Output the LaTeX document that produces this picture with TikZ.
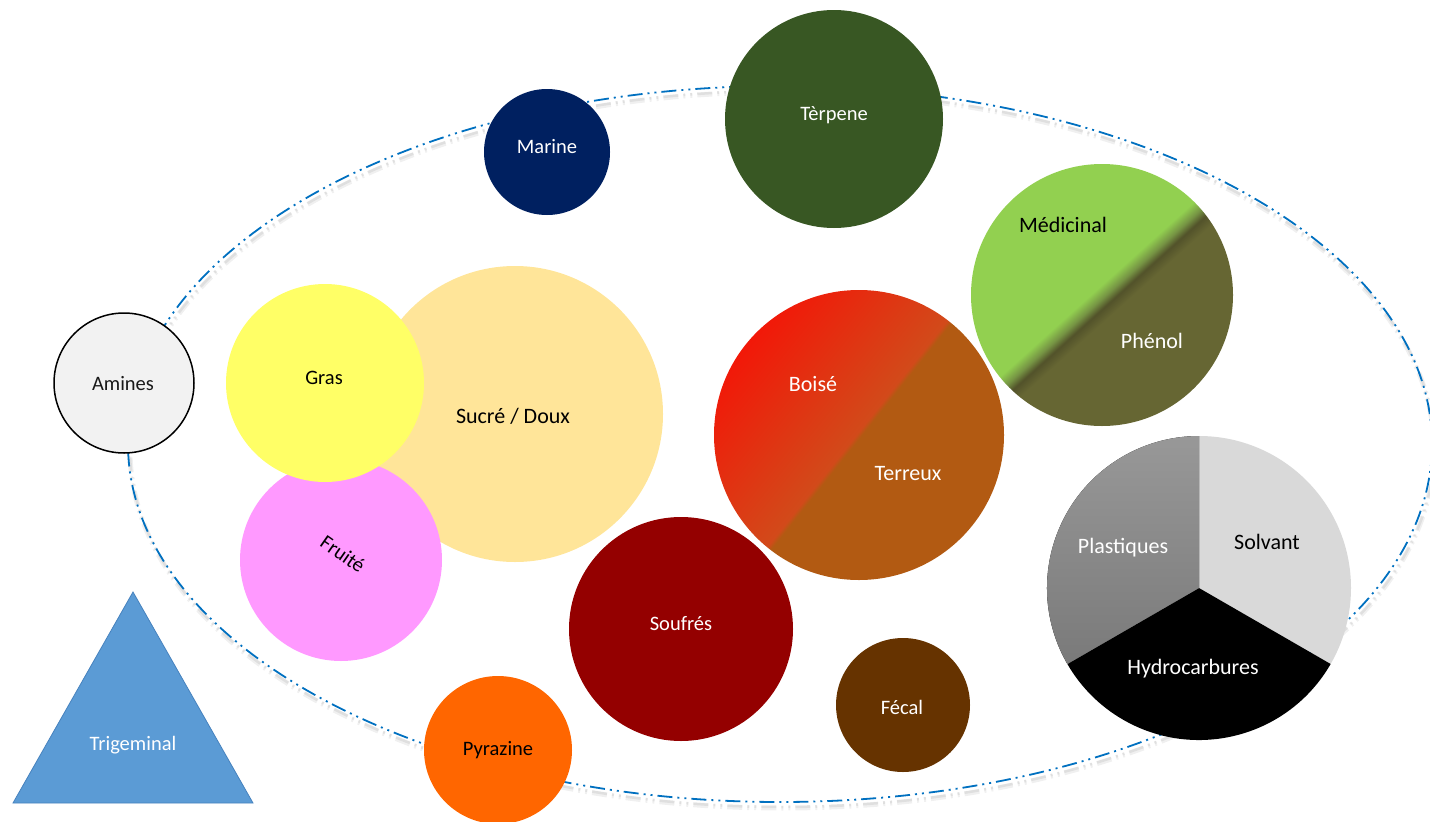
\documentclass[tikz,border=0pt]{standalone}
\usepackage{fontspec}
\setmainfont{Carlito}
\definecolor{ellblue}{RGB}{0,112,192}
\definecolor{marine}{RGB}{0,32,96}
\definecolor{terpene}{RGB}{56,87,35}
\definecolor{amines}{RGB}{242,242,242}
\definecolor{gras}{RGB}{255,255,102}
\definecolor{sucre}{RGB}{255,229,153}
\definecolor{fruite}{RGB}{255,153,255}
\definecolor{soufres}{RGB}{148,0,0}
\definecolor{fecal}{RGB}{102,51,0}
\definecolor{pyrazine}{RGB}{255,102,0}
\definecolor{trig}{RGB}{91,155,213}
\definecolor{trigedge}{RGB}{70,130,190}
\definecolor{solvant}{RGB}{217,217,217}
\definecolor{plastop}{RGB}{152,152,152}
\definecolor{plasbot}{RGB}{122,122,122}
\definecolor{boisA}{RGB}{242,24,8}
\definecolor{boisB}{RGB}{210,74,26}
\definecolor{boisC}{RGB}{178,90,18}
\definecolor{medA}{RGB}{146,208,80}
\definecolor{medB}{RGB}{118,148,68}
\definecolor{medC}{RGB}{82,82,42}
\definecolor{medD}{RGB}{102,102,51}
\pgfdeclarehorizontalshading{boiseshade}{100bp}{color(0bp)=(boisA); color(25bp)=(boisA); color(49.6bp)=(boisB); color(50.4bp)=(boisC); color(100bp)=(boisC)}
\pgfdeclarehorizontalshading{medshade}{100bp}{color(0bp)=(medA); color(48.5bp)=(medA); color(50.5bp)=(medB); color(52bp)=(medC); color(54bp)=(medD); color(100bp)=(medD)}
\tikzset{
  blob/.style={circle, inner sep=0pt, minimum size=#1},
  lbl/.style={font=\fontsize{20.5}{22}\selectfont, inner sep=0pt, yshift=-2pt},
  biglbl/.style={font=\fontsize{22}{24}\selectfont, inner sep=0pt, yshift=-2pt},
  ellline/.style={line width=1.8pt, dash pattern=on 15pt off 5pt on 2pt off 5pt on 2pt off 5pt}
}
\begin{document}
\begin{tikzpicture}[x=1pt, y=-1pt]
\useasboundingbox (0,0) rectangle (1430,822);
% ellipse with soft shadow
\draw[ellline, black, opacity=0.06, line width=5pt] (782,450) ellipse [x radius=652, y radius=358];
\draw[ellline, black, opacity=0.07, line width=2.5pt] (782,449) ellipse [x radius=652, y radius=358];
\draw[ellline, ellblue] (780,444) ellipse [x radius=652, y radius=358];

% circles
\node[blob=296pt, fill=sucre] (sucre) at (515,414) {};
\node[blob=202pt, fill=fruite] (fruite) at (341,560) {};
\node[blob=198pt, fill=gras] (gras) at (325,383) {};
\node[blob=126pt, fill=marine] (marine) at (547,152) {};
\node[blob=218pt, fill=terpene] (terpene) at (834,119) {};
\node[blob=140pt, fill=amines, draw=black, line width=1.5pt] (amines) at (124,383) {};
\node[blob=290pt, shading=boiseshade, shading angle=-38.5] (boise) at (859,435) {};
\node[blob=262pt, shading=medshade, shading angle=-48] (med) at (1102,295) {};
\node[blob=224pt, fill=soufres] (soufres) at (681,629) {};
\node[blob=134pt, fill=fecal] (fecal) at (903,705) {};
\node[blob=148pt, fill=pyrazine] (pyrazine) at (498,750) {};

% pie
\coordinate (pie) at (1199,588);
\fill[solvant] (pie) -- ++(-90:152) arc[start angle=-90, end angle=30, radius=152] -- cycle;
\fill[black] (pie) -- ++(30:152) arc[start angle=30, end angle=150, radius=152] -- cycle;
\fill[top color=plastop, bottom color=plasbot] (pie) -- ++(150:152) arc[start angle=150, end angle=270, radius=152] -- cycle;

% triangle
\coordinate (t1) at (133,592);
\coordinate (t2) at (253,803);
\coordinate (t3) at (13,803);
\filldraw[fill=trig, draw=trigedge, line width=0.8pt] (t1) -- (t2) -- (t3) -- cycle;

% labels
\node[lbl, white] (tmarine) at (547,145) {Marine};
\node[lbl, white] (tterpene) at (834,113) {Tèrpene};
\node[biglbl, black] (tmed) at (1063,223) {Médicinal};
\node[biglbl, white] (tphenol) at (1152,339) {Phénol};
\node[lbl, black!90] (tamines) at (123,382) {Amines};
\node[lbl, black] (tgras) at (324,376) {Gras};
\node[biglbl, black] (tsucre) at (513,414) {Sucré / Doux};
\node[biglbl, white] (tboise) at (813,382) {Boisé};
\node[biglbl, white] (tterreux) at (908,472) {Terreux};
\node[lbl, black, rotate=-35] (tfruite) at (343,552) {Fruité};
\node[biglbl, white] (tplast) at (1123,546) {Plastiques};
\node[biglbl, black] (tsolv) at (1267,540) {Solvant};
\node[biglbl, white] (thydro) at (1193,667) {Hydrocarbures};
\node[lbl, white] (tsouf) at (681,622) {Soufrés};
\node[lbl, white] (tfecal) at (902,705) {Fécal};
\node[lbl, white] (ttrig) at (133,743) {Trigeminal};
\node[lbl, black] (tpyr) at (498,748) {Pyrazine};
\end{tikzpicture}
\end{document}
